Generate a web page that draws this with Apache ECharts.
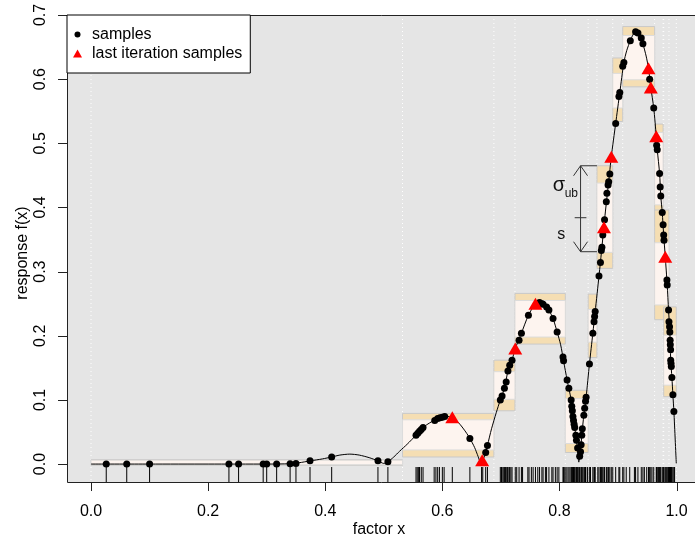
<!DOCTYPE html>
<html><head><meta charset="utf-8">
<script src="https://cdn.jsdelivr.net/npm/echarts@6/dist/echarts.min.js"></script>
<style>html,body{margin:0;padding:0;background:#fff}#c{width:695px;height:541px}</style>
</head><body><div id="c"></div>
<script>
// ---------- data ----------
const xTicks = [0, 0.2, 0.4, 0.6, 0.8, 1.0];
const yTicks = [0, 0.1, 0.2, 0.3, 0.4, 0.5, 0.6, 0.7];
// plot frame limits
const X_MIN = -0.041, X_MAX = 1.04, Y_MIN = -0.028, Y_MAX = 0.7;
// axis limits (a little wider than the frame so the outside tick marks fall inside the grid)
const AX_X_MIN = -0.0564, AX_Y_MIN = -0.042;

const curveX = [0,0.1,0.2,0.3,0.34,0.355,0.375,0.395,0.411,0.425,0.442,0.458,0.475,0.490,0.500,0.507,0.517,0.527,0.540,0.555,0.567,0.578,0.590,0.604,0.612,0.620,0.630,0.640,0.647,0.655,0.661,0.6655,0.668,0.671,0.674,0.677,0.684,0.692,0.699,0.706,0.712,0.719,0.7245,0.735,0.747,0.759,0.766,0.772,0.778,0.782,0.789,0.796,0.802,0.807,0.813,0.816,0.820,0.823,0.826,0.829,0.831,0.833,0.8345,0.836,0.8381,0.8416,0.8455,0.8512,0.857,0.861,0.8675,0.8725,0.877,0.884,0.8885,0.896,0.903,0.910,0.915,0.921,0.926,0.931,0.936,0.9425,0.948,0.952,0.956,0.961,0.9653,0.967,0.971,0.973,0.9755,0.978,0.9807,0.984,0.9863,0.9885,0.990,0.992,0.9937,0.9954,0.9995];
const curveY = [0,0,0,0,0.0005,0.002,0.005,0.008,0.011,0.014,0.0155,0.014,0.010,0.005,0.001,0.0035,0.011,0.020,0.031,0.045,0.057,0.064,0.070,0.074,0.074,0.071,0.062,0.050,0.040,0.026,0.012,0.002,0.004,0.010,0.018,0.029,0.055,0.080,0.100,0.118,0.145,0.162,0.180,0.204,0.232,0.250,0.252,0.249,0.245,0.240,0.227,0.206,0.186,0.161,0.131,0.118,0.100,0.074,0.057,0.037,0.022,0.003,0.010,0.020,0.045,0.076,0.104,0.156,0.204,0.238,0.293,0.338,0.381,0.440,0.479,0.531,0.579,0.626,0.645,0.660,0.670,0.674,0.671,0.655,0.636,0.617,0.587,0.555,0.511,0.490,0.453,0.418,0.392,0.357,0.323,0.279,0.240,0.206,0.162,0.135,0.108,0.082,0.001];

const sampleX = [0.026,0.061,0.100,0.2355,0.252,0.294,0.300,0.317,0.340,0.350,0.374,0.411,0.490,0.507,0.555,0.558,0.561,0.564,0.567,0.587,0.592,0.596,0.600,0.604,0.647,0.674,0.677,0.699,0.702,0.706,0.709,0.712,0.715,0.719,0.731,0.735,0.747,0.766,0.770,0.772,0.778,0.782,0.789,0.796,0.806,0.807,0.813,0.816,0.820,0.821,0.822,0.823,0.824,0.825,0.826,0.828,0.829,0.831,0.8345,0.836,0.837,0.8381,0.839,0.8416,0.843,0.8445,0.8455,0.8512,0.857,0.859,0.860,0.861,0.8675,0.870,0.8715,0.8725,0.874,0.877,0.880,0.881,0.883,0.884,0.886,0.896,0.9015,0.903,0.908,0.910,0.921,0.930,0.934,0.9397,0.9425,0.954,0.961,0.966,0.967,0.971,0.972,0.973,0.9755,0.977,0.978,0.9785,0.9835,0.984,0.9863,0.987,0.988,0.9885,0.989,0.9893,0.9898,0.990,0.9905,0.991,0.992,0.9937,0.9954];
const sampleY = [0,0,0,0,0,0,0,0,0.0005,0.001,0.005,0.011,0.005,0.0035,0.045,0.048,0.051,0.054,0.057,0.068,0.071,0.072,0.073,0.074,0.040,0.018,0.029,0.100,0.106,0.118,0.128,0.145,0.154,0.162,0.193,0.204,0.232,0.252,0.250,0.249,0.245,0.240,0.227,0.206,0.167,0.161,0.131,0.118,0.100,0.090,0.083,0.074,0.068,0.062,0.057,0.045,0.037,0.025,0.012,0.019,0.030,0.045,0.055,0.076,0.087,0.098,0.104,0.156,0.204,0.222,0.230,0.238,0.293,0.314,0.333,0.338,0.357,0.381,0.409,0.422,0.435,0.440,0.452,0.531,0.573,0.579,0.620,0.626,0.660,0.674,0.672,0.664,0.655,0.600,0.555,0.497,0.490,0.453,0.432,0.418,0.392,0.373,0.357,0.349,0.287,0.279,0.240,0.222,0.214,0.206,0.193,0.186,0.178,0.162,0.157,0.152,0.135,0.108,0.082];

const lastX = [0.617,0.668,0.7245,0.759,0.876,0.8885,0.952,0.956,0.9653,0.9807];
const lastY = [0.073,0.006,0.180,0.250,0.369,0.479,0.617,0.587,0.511,0.323];

const rugX = [0.026,0.061,0.100,0.2355,0.252,0.294,0.300,0.317,0.340,0.350,0.374,0.411,0.490,0.507,
0.555,0.557,0.559,0.561,0.564,0.567,0.586,0.589,0.592,0.595,0.600,0.603,0.617,0.647,0.667,0.669,0.674,0.677,
0.699,0.701,0.702,0.704,0.706,0.708,0.709,0.711,0.712,0.714,0.715,0.717,0.719,0.7245,0.727,0.731,0.735,0.737,
0.746,0.748,0.752,0.755,0.759,0.763,0.766,0.770,0.772,0.776,0.778,0.782,0.787,0.789,0.793,0.796,0.799,
0.806,0.807,0.809,0.811,0.813,0.816,0.818,0.820,0.821,0.822,0.823,0.824,0.825,0.826,0.828,0.829,0.831,0.832,0.834,0.835,0.837,0.838,0.839,0.8416,0.843,0.8445,0.845,0.848,0.851,0.853,0.857,0.859,0.860,0.861,
0.8655,0.8675,0.870,0.8715,0.8725,0.874,0.876,0.877,0.880,0.881,0.883,0.884,0.886,0.8885,
0.891,0.896,0.9015,0.903,0.908,0.910,0.914,0.920,0.928,0.930,0.934,0.9397,0.9425,0.945,
0.949,0.952,0.954,0.956,0.958,0.961,0.9653,0.966,0.967,0.969,0.971,0.972,0.973,0.9755,0.977,0.978,0.9785,0.9807,0.982,0.9835,0.984,0.9863,0.987,0.988,0.9885,0.989,0.9893,0.9898,0.990,0.9905,0.991,0.992,0.9937,0.9954,0.9966];

const boxX0    = [0.000, 0.532, 0.688, 0.724, 0.810, 0.849, 0.864, 0.891, 0.908, 0.9625, 0.9625, 0.978];
const boxX1    = [0.532, 0.688, 0.724, 0.810, 0.849, 0.864, 0.891, 0.908, 0.9625, 0.977, 0.987, 0.9995];
const outerLo  = [-0.002, 0.011, 0.083, 0.187, 0.018, 0.166, 0.305, 0.534, 0.588, 0.370, 0.225, 0.105];
const innerLo  = [-0.001, 0.022, 0.101, 0.198, 0.032, 0.190, 0.330, 0.555, 0.599, 0.404, 0.248, 0.123];
const innerHi  = [0.006, 0.069, 0.144, 0.255, 0.102, 0.241, 0.438, 0.609, 0.668, 0.517, 0.345, 0.201];
const outerHi  = [0.007, 0.079, 0.162, 0.266, 0.115, 0.265, 0.465, 0.633, 0.682, 0.530, 0.396, 0.245];

// annotation (sigma_ub / s)
const annX = 0.836, annTop = 0.465, annMid = 0.384, annBot = 0.331, annRightX = 0.864;
const annTickX0 = 0.826, annTickX1 = 0.846;
const sigmaPos = [0.7884, 0.4336], ubPos = [0.8089, 0.4221], sPos = [0.803, 0.3582];

// ---------- chart ----------
const FONT = 'Liberation Sans, Arial, Helvetica, sans-serif';
const chart = echarts.init(document.getElementById('c'), null, {renderer: 'canvas'});
const gridX = Array.from(new Set(boxX0.concat(boxX1))).sort((a, b) => a - b);
const boxes = boxX0.map((x0, i) => [x0, boxX1[i], outerLo[i], innerLo[i], innerHi[i], outerHi[i]]);
const circleIcon = 'path://M0,0M9,9M1.5,4.5A3,3,0,1,0,7.5,4.5A3,3,0,1,0,1.5,4.5Z';
const triIcon = 'path://M0,0M9,9M0,8.5L4.5,0.5L9,8.5Z';
const TICK = 9;

function frameRect(api) {
  const a = api.coord([X_MIN, Y_MAX]);
  const b = api.coord([X_MAX, Y_MIN]);
  return {x: a[0], y: a[1], width: b[0] - a[0], height: b[1] - a[1]};
}

const option = {
  animation: false,
  backgroundColor: '#fff',
  textStyle: {fontFamily: FONT},
  grid: {left: 58, top: 15, width: 642, height: 476, show: false, containLabel: false, outerBoundsMode: 'none'},
  legend: {
    left: 67, top: 15, orient: 'vertical', padding: [10, 8, 10, 6], z: 20,
    itemWidth: 19, itemHeight: 9, itemGap: 0, symbolKeepAspect: true,
    backgroundColor: '#fff', borderColor: '#000', borderWidth: 1, borderRadius: 0,
    selectedMode: false,
    textStyle: {fontSize: 16, lineHeight: 19, color: '#000', fontFamily: FONT},
    data: [{name: 'samples', icon: circleIcon}, {name: 'last iteration samples', icon: triIcon}]
  },
  xAxis: {
    type: 'value', min: AX_X_MIN, max: X_MAX,
    axisLine: {show: false, onZero: false}, splitLine: {show: false},
    axisTick: {show: false},
    axisLabel: {customValues: xTicks, formatter: v => v.toFixed(1), fontSize: 16, color: '#000', margin: 13, fontFamily: FONT},
    name: 'factor x', nameLocation: 'middle', nameGap: 31, nameMoveOverlap: false,
    nameTextStyle: {fontSize: 16, color: '#000', fontFamily: FONT}
  },
  yAxis: {
    type: 'value', min: AX_Y_MIN, max: Y_MAX,
    axisLine: {show: false, onZero: false}, splitLine: {show: false},
    axisTick: {show: false},
    axisLabel: {customValues: yTicks, rotate: 90, formatter: v => v.toFixed(1), fontSize: 16, color: '#000', margin: 9, fontFamily: FONT},
    name: 'response f(x)', nameLocation: 'middle', nameGap: 27, nameMoveOverlap: false,
    nameTextStyle: {fontSize: 16, color: '#000', fontFamily: FONT}
  },
  series: [
    { // plot background
      type: 'custom', silent: true, z: 0,
      data: [[X_MIN, Y_MIN, X_MAX, Y_MAX]], encode: {x: [0, 2], y: [1, 3]},
      renderItem(params, api) {
        return {type: 'rect', shape: frameRect(api), style: {fill: '#e5e5e5', stroke: null}};
      }
    },
    { // dotted white guide lines at box edges
      type: 'custom', silent: true, z: 1,
      data: gridX.map(x => [x, 0]), encode: {x: 0, y: 1},
      renderItem(params, api) {
        const top = api.coord([api.value(0), Y_MAX]);
        const bot = api.coord([api.value(0), Y_MIN]);
        return {type: 'line', shape: {x1: top[0], y1: top[1], x2: bot[0], y2: bot[1]},
                style: {stroke: '#ffffff', lineWidth: 1, lineDash: [1, 3]}};
      }
    },
    { // boxes
      type: 'custom', silent: true, z: 2,
      data: boxes, encode: {x: [0, 1], y: [2, 5]},
      renderItem(params, api) {
        const a = api.coord([api.value(0), api.value(5)]);
        const b = api.coord([api.value(1), api.value(2)]);
        const c = api.coord([api.value(0), api.value(4)]);
        const d = api.coord([api.value(1), api.value(3)]);
        return {type: 'group', children: [
          {type: 'rect', shape: {x: a[0], y: a[1], width: b[0] - a[0], height: b[1] - a[1]},
           style: {fill: '#f5deb3', stroke: '#c9c9c9', lineWidth: 1}},
          {type: 'rect', shape: {x: c[0], y: c[1], width: d[0] - c[0], height: d[1] - c[1]},
           style: {fill: '#fdf4ef', stroke: '#dcdcdc', lineWidth: 1}}
        ]};
      }
    },
    { // rug
      type: 'custom', silent: true, z: 3,
      data: rugX.map(x => [x, Y_MIN]), encode: {x: 0, y: 1},
      renderItem(params, api) {
        const p = api.coord([api.value(0), api.value(1)]);
        return {type: 'line', shape: {x1: p[0], y1: p[1], x2: p[0], y2: p[1] - 15},
                style: {stroke: '#000', lineWidth: 1}};
      }
    },
    { // annotation
      type: 'custom', silent: true, z: 4,
      data: [[annX, annMid]], encode: {x: 0, y: 1},
      renderItem(params, api) {
        const t = api.coord([annX, annTop]);
        const bt = api.coord([annX, annBot]);
        const r1 = api.coord([annRightX, annTop]);
        const r2 = api.coord([annRightX, annBot]);
        const k0 = api.coord([annTickX0, annMid]);
        const k1 = api.coord([annTickX1, annMid]);
        const sg = api.coord(sigmaPos), ub = api.coord(ubPos), ss = api.coord(sPos);
        const st = {stroke: '#333', lineWidth: 1, fill: null};
        return {type: 'group', children: [
          {type: 'polyline', shape: {points: [t, bt]}, style: st},
          {type: 'polyline', shape: {points: [[t[0] - 7, t[1] + 10], t, [t[0] + 7, t[1] + 10]]}, style: st},
          {type: 'polyline', shape: {points: [[bt[0] - 7, bt[1] - 10], bt, [bt[0] + 7, bt[1] - 10]]}, style: st},
          {type: 'polyline', shape: {points: [t, r1]}, style: st},
          {type: 'polyline', shape: {points: [bt, r2]}, style: st},
          {type: 'polyline', shape: {points: [k0, k1]}, style: st},
          {type: 'text', x: sg[0], y: sg[1], style: {text: 'σ', fill: '#111', font: '20px ' + FONT, textAlign: 'left', textVerticalAlign: 'middle'}},
          {type: 'text', x: ub[0], y: ub[1], style: {text: 'ub', fill: '#111', font: '12px ' + FONT, textAlign: 'left', textVerticalAlign: 'middle'}},
          {type: 'text', x: ss[0], y: ss[1], style: {text: 's', fill: '#111', font: '16px ' + FONT, textAlign: 'center', textVerticalAlign: 'middle'}}
        ]};
      }
    },
    {
      name: 'curve', type: 'line', z: 5, smooth: 0.25, showSymbol: false, silent: true,
      data: curveX.map((x, i) => [x, curveY[i]]),
      lineStyle: {color: '#000', width: 1}, itemStyle: {color: '#000'}
    },
    {
      name: 'samples', type: 'scatter', z: 6, symbol: 'circle', symbolSize: 7,
      data: sampleX.map((x, i) => [x, sampleY[i]]),
      itemStyle: {color: '#000', opacity: 1}
    },
    {
      name: 'last iteration samples', type: 'scatter', z: 7, symbol: 'triangle', symbolSize: [14, 12],
      data: lastX.map((x, i) => [x, lastY[i]]),
      itemStyle: {color: '#ff0000', opacity: 1}
    },
    { // plot frame
      type: 'custom', silent: true, z: 8,
      data: [[X_MIN, Y_MIN, X_MAX, Y_MAX]], encode: {x: [0, 2], y: [1, 3]},
      renderItem(params, api) {
        const r = frameRect(api);
        return {type: 'rect', shape: {x: Math.round(r.x) + 0.5, y: Math.round(r.y) + 0.5, width: r.width, height: Math.round(r.height)},
                style: {fill: null, stroke: '#222', lineWidth: 1}};
      }
    },
    { // x axis tick marks below the frame
      type: 'custom', silent: true, z: 8,
      data: xTicks.map(v => [v, Y_MIN]), encode: {x: 0, y: 1},
      renderItem(params, api) {
        const p = api.coord([api.value(0), api.value(1)]);
        const x = Math.round(p[0]) + 0.5;
        return {type: 'line', shape: {x1: x, y1: p[1], x2: x, y2: p[1] + TICK},
                style: {stroke: '#222', lineWidth: 1}};
      }
    },
    { // y axis tick marks left of the frame
      type: 'custom', silent: true, z: 8,
      data: yTicks.map(v => [X_MIN, v]), encode: {x: 0, y: 1},
      renderItem(params, api) {
        const p = api.coord([api.value(0), api.value(1)]);
        const y = Math.round(p[1]) + 0.5;
        return {type: 'line', shape: {x1: p[0], y1: y, x2: p[0] - TICK, y2: y},
                style: {stroke: '#222', lineWidth: 1}};
      }
    }
  ]
};
chart.setOption(option);
</script></body></html>
